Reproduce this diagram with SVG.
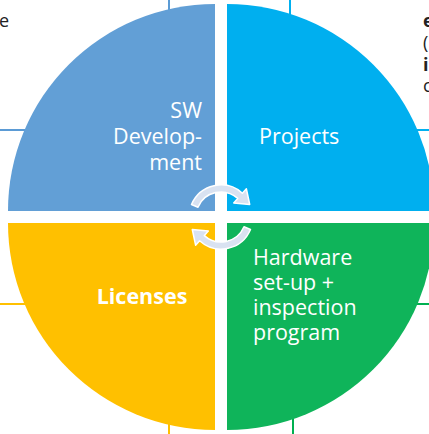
<svg xmlns="http://www.w3.org/2000/svg" width="429" height="434" viewBox="0 0 429 434">
<style>
.lbl{font-family:"Open Sans","Noto Sans","Liberation Sans",sans-serif;font-size:21.5px;fill:#fff}
.b{font-weight:bold}
.frag{font-family:"Open Sans","Liberation Sans",sans-serif;font-size:18px;fill:#222}
.ln{stroke-width:2;fill:none}
.arr{fill:#D9E2F1;stroke:#fff;stroke-width:1.5;stroke-linejoin:round}
</style>
<rect width="429" height="434" fill="#fff"/>
<g id="connectors">
<line class="ln" x1="0" y1="130" x2="26" y2="130" stroke="#5B9BD5"/>
<line class="ln" x1="169" y1="0" x2="169" y2="12" stroke="#5B9BD5"/>
<line class="ln" x1="290" y1="0" x2="290" y2="16" stroke="#00B0F0"/>
<line class="ln" x1="416" y1="130" x2="429" y2="130" stroke="#00B0F0"/>
<line class="ln" x1="416" y1="304" x2="429" y2="304" stroke="#00B050"/>
<line class="ln" x1="293" y1="418" x2="293" y2="434" stroke="#00B050"/>
<line class="ln" x1="169" y1="424" x2="169" y2="434" stroke="#FFC000"/>
<line class="ln" x1="0" y1="304" x2="26" y2="304" stroke="#FFC000"/>
</g>
<g id="sw">
<path d="M215 211 L8 211 A207 207 0 0 1 215 4 Z" fill="#629FD6"/>
<text class="lbl" text-anchor="end"><tspan x="202" y="118">SW</tspan><tspan x="202" y="144">Develop-</tspan><tspan x="202" y="170">ment</tspan></text>
</g>
<g id="projects">
<path d="M227 211 L227 4 A207 207 0 0 1 434 211 Z" fill="#00AFEF"/>
<text class="lbl" x="259" y="144">Projects</text>
</g>
<g id="hardware">
<path d="M227 223 L434 223 A207 207 0 0 1 227 430 Z" fill="#0FB45A"/>
<text class="lbl"><tspan x="253" y="265">Hardware</tspan><tspan x="253" y="290">set-up +</tspan><tspan x="253" y="315">inspection</tspan><tspan x="253" y="340">program</tspan></text>
</g>
<g id="licenses">
<path d="M215 223 L215 430 A207 207 0 0 1 8 223 Z" fill="#FFC000"/>
<text class="lbl b" x="142" y="304" text-anchor="middle">Licenses</text>
</g>
<g id="cycle">
<path class="arr" d="M191.5 204.5 A32 32 0 0 1 242.4 193.2 L246.4 188.8 L249.7 204.5 L233.7 202.9 L237.7 198.4 A25 25 0 0 0 198.0 207.2 Z"/>
<path class="arr" d="M250.5 229.5 A32 32 0 0 1 199.6 240.8 L195.6 245.2 L192.3 229.5 L208.3 231.1 L204.3 235.6 A25 25 0 0 0 244.0 226.8 Z"/>
</g>
<g id="fragments">
<text class="frag" x="9" y="27" text-anchor="end">e</text>
<text class="frag b" x="423" y="27">e</text>
<text class="frag" x="423" y="49">(</text>
<text class="frag b" x="423" y="71">i</text>
<text class="frag" x="423" y="92">c</text>
</g>
</svg>
